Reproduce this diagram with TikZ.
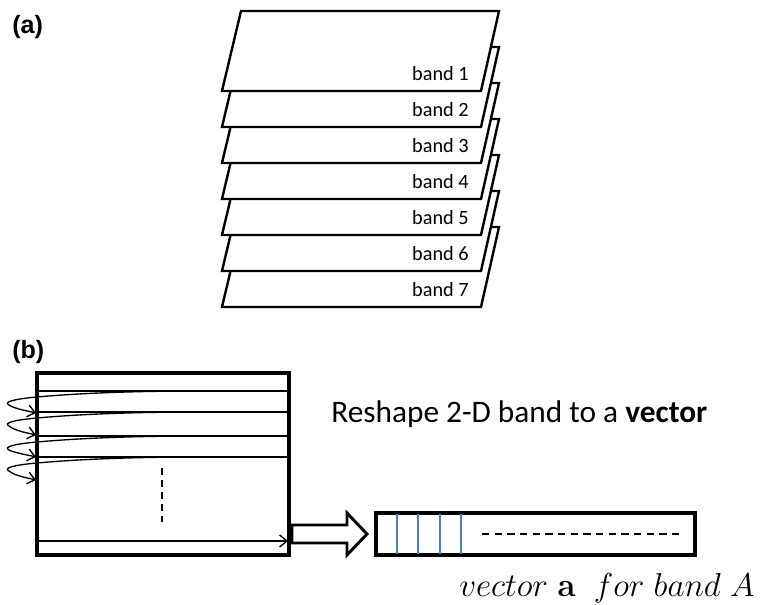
\documentclass[tikz,border=0pt]{standalone}
\usepackage[no-math]{fontspec}
\setmainfont{Carlito}
\newfontfamily\labelfont{Liberation Sans}
\usetikzlibrary{arrows.meta}
\definecolor{cellblue}{HTML}{4F79C4}
\tikzset{
  sheet/.style={draw=black, fill=white, line width=1.8pt, line join=miter},
  bandlabel/.style={anchor=base east, inner sep=0pt, font=\fontsize{15.2}{18}\selectfont},
  panel/.style={anchor=base west, inner sep=0pt, font=\labelfont\bfseries\fontsize{18.8}{22}\selectfont},
  frame/.style={draw=black, line width=2.4pt},
  rowline/.style={line width=1.3pt},
  scan/.style={line width=1pt, -{Straight Barb[length=5.5pt,width=9pt]}},
}
\begin{document}
\begin{tikzpicture}[x=0.75pt, y=-0.75pt]
\useasboundingbox (0,0) rectangle (782,605);

% ---- (a) stack of seven spectral bands, drawn back to front ----
\node[panel] (lbla) at (12,34) {(a)};
\foreach \k in {7,6,...,1}{
  \pgfmathsetmacro{\top}{11+36*(\k-1)}
  \pgfmathsetmacro{\bot}{91+36*(\k-1)}
  \draw[sheet] (241,\top) -- (499,\top) -- (481,\bot) -- (222,\bot) -- cycle;
  \node[bandlabel] (band\k) at (469,\bot-10) {band \k};
}

% ---- (b) raster scan of one band ----
\node[panel] (lblb) at (12,359) {(b)};
\node[frame, minimum width=252*0.75pt, minimum height=182*0.75pt, inner sep=0pt] (grid) at (163,464) {};

% scanned rows
\foreach \r/\yy in {1/391, 2/412, 3/436, 4/457}{
  \coordinate (rowL\r) at (37,\yy);
  \coordinate (rowR\r) at (289,\yy);
  \draw[rowline] (rowL\r) -- (rowR\r);
}

% wrap-around arrows from the end of one row to the start of the next
\foreach \r/\ya/\yb in {1/391/413, 2/412/435, 3/436/457, 4/457/480}{
  \coordinate (from\r) at (200,\ya);
  \coordinate (to\r) at (36,\yb);
  \draw[scan] (from\r) .. controls (110,\ya) and (60,\ya+4) .. (37,\ya+6)
        .. controls (14,\ya+8) and (3,\ya+11) .. (9,\ya+14)
        .. controls (15,\yb-4) and (28,\yb-2) .. (to\r);
}

% remaining rows
\coordinate (dotsTop) at (162,468);
\coordinate (dotsBot) at (162,522);
\draw[line width=1.1pt, dash pattern=on 5pt off 4pt] (dotsTop) -- (dotsBot);

\coordinate (lastL) at (37,541);
\coordinate (lastR) at (288,541);
\draw[line width=1pt, -{Straight Barb[length=5.5pt,width=9pt]}] (lastL) -- (lastR);

% hollow block arrow
\draw[line width=2.2pt, line join=miter]
  (292,525) -- (347,525) -- (347,513) -- (367,534) -- (347,555) -- (347,543) -- (292,543) -- cycle;

% resulting vector
\node[frame, minimum width=319*0.75pt, minimum height=42*0.75pt, inner sep=0pt] (vec) at (535.5,534) {};
\foreach \xx in {397,418,440,461}{
  \draw[cellblue, line width=0.9pt] (\xx,514) -- (\xx,554);
}
\coordinate (vdotsL) at (482,534);
\coordinate (vdotsR) at (680,534);
\draw[line width=1pt, dash pattern=on 5.5pt off 4pt] (vdotsL) -- (vdotsR);

\node[anchor=base west, inner sep=0pt, font=\fontsize{23.5}{28}\selectfont] (caption) at (331,423)
  {Reshape 2-D band to a \textbf{vector}};

\node[anchor=base west, inner sep=0pt, font=\fontsize{24.5}{29}\selectfont] (vlabel) at (459,597)
  {$vector\;\mathbf{a}\;\;for\;band\;A$};
\end{tikzpicture}
\end{document}
